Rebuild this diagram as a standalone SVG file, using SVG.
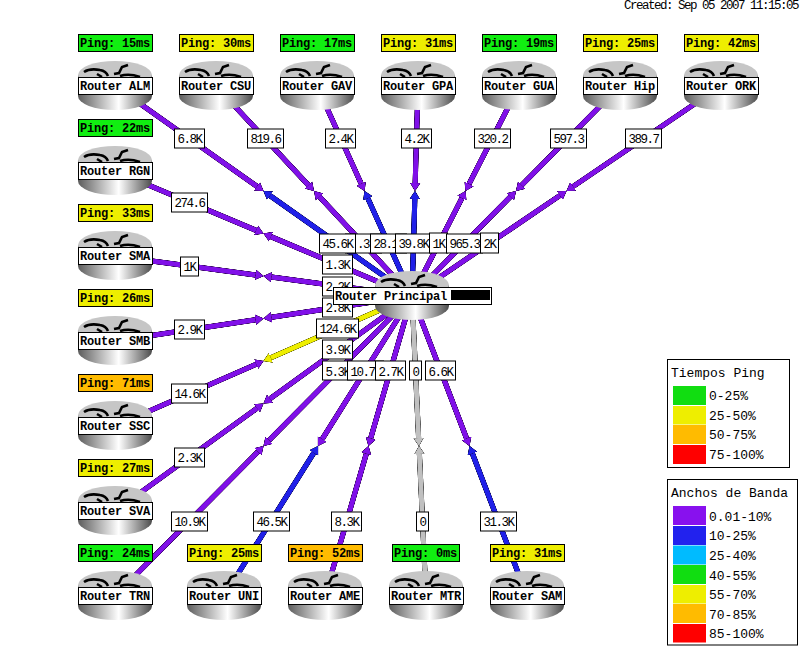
<svg xmlns="http://www.w3.org/2000/svg" xmlns:xlink="http://www.w3.org/1999/xlink" width="801" height="653" viewBox="0 0 801 653">
<style>
text{font-family:"Liberation Mono","DejaVu Sans Mono",monospace;fill:#000}
.n{font-size:12px;font-weight:bold;letter-spacing:-.2px}
.l{font-size:12.500px;letter-spacing:-1.500px}
.t{font-size:13px}
.b{fill:#fff;stroke:#000;stroke-width:1}
.g{fill:#11ee11;stroke:#000}
.y{fill:#eeee00;stroke:#000}
.o{fill:#ffbb00;stroke:#000}
.p,.u,.w,.m{fill:none;stroke-width:5}
.p{stroke:#8010e8;marker-end:url(#ap)}
.u{stroke:#2020e8;marker-end:url(#au)}
.w{stroke:#eeee00;marker-end:url(#ay)}
.m{stroke:#c0c0c0;marker-end:url(#am)}
</style>
<defs>
<linearGradient id="cyl"><stop offset="0" stop-color="#5c5c5c"/><stop offset=".55" stop-color="#fff"/><stop offset="1" stop-color="#4c4c4c"/></linearGradient>
<marker id="ap" markerUnits="userSpaceOnUse" markerWidth="10" markerHeight="12" refX="0" refY="6" orient="auto"><path d="M0,1 L8,6 L0,11z" fill="#8010e8"/></marker>
<marker id="au" markerUnits="userSpaceOnUse" markerWidth="10" markerHeight="12" refX="0" refY="6" orient="auto"><path d="M0,1 L8,6 L0,11z" fill="#2020e8"/></marker>
<marker id="ay" markerUnits="userSpaceOnUse" markerWidth="10" markerHeight="12" refX="0" refY="6" orient="auto"><path d="M0,1 L8,6 L0,11z" fill="#eeee00"/></marker>
<marker id="am" markerUnits="userSpaceOnUse" markerWidth="10" markerHeight="12" refX="0" refY="6" orient="auto"><path d="M0,1 L8,6 L0,11z" fill="#c0c0c0"/></marker>
<filter id="edge" filterUnits="userSpaceOnUse" x="0" y="0" width="801" height="653" color-interpolation-filters="sRGB">
<feGaussianBlur in="SourceAlpha" stdDeviation=".6" result="b"/>
<feComponentTransfer in="b" result="c"><feFuncA type="linear" slope="2.2"/></feComponentTransfer>
<feMerge><feMergeNode in="c"/><feMergeNode in="SourceGraphic"/></feMerge>
</filter>
<g id="router">
<path d="M-37,-11V10A37,14 0 0 0 37,10V-11z" fill="url(#cyl)"/>
<ellipse cx="0" cy="-11" rx="37" ry="14" fill="#c6c6c6"/>
<path d="M-31,-14Q-25,-18 -15,-16Q-9,-15 -7,-10M-1,-12L4,-13L7,-19L13,-21M5,-10Q14,-13 25,-9M-18,-12L-13,-9" fill="none" stroke="#000" stroke-width="2.600"/>
</g>
</defs>
<rect width="801" height="653" fill="#fff"/>
<text class="l" x="624" y="9">Created: Sep 05 2007 11:15:05</text>

<g id="connectors">
<g filter="url(#edge)">
<line class="p" x1="115" y1="86" x2="257" y2="186.4"/><line class="u" x1="412" y1="296" x2="270" y2="195.6"/>
<line class="p" x1="216" y1="86" x2="308.5" y2="185.2"/><line class="p" x1="412" y1="296" x2="319.5" y2="196.8"/>
<line class="p" x1="317" y1="86" x2="361.2" y2="183.7"/><line class="u" x1="412" y1="296" x2="367.8" y2="198.3"/>
<line class="p" x1="418" y1="86" x2="415.2" y2="183"/><line class="u" x1="412" y1="296" x2="414.8" y2="199"/>
<line class="p" x1="519" y1="86" x2="469.1" y2="183.9"/><line class="p" x1="412" y1="296" x2="461.9" y2="198.1"/>
<line class="p" x1="620" y1="86" x2="521.6" y2="185.3"/><line class="p" x1="412" y1="296" x2="510.4" y2="196.7"/>
<line class="p" x1="721" y1="86" x2="573.1" y2="186.5"/><line class="p" x1="412" y1="296" x2="559.9" y2="195.5"/>
<line class="p" x1="115" y1="171" x2="256.1" y2="230.4"/><line class="p" x1="412" y1="296" x2="270.9" y2="236.6"/>
<line class="p" x1="115" y1="256" x2="255.6" y2="274.9"/><line class="p" x1="412" y1="296" x2="271.4" y2="277.1"/>
<line class="p" x1="115" y1="341" x2="255.6" y2="319.7"/><line class="p" x1="412" y1="296" x2="271.4" y2="317.3"/>
<line class="p" x1="115" y1="426" x2="256.2" y2="364.2"/><line class="w" x1="412" y1="296" x2="270.8" y2="357.8"/>
<line class="p" x1="115" y1="511" x2="257" y2="408.2"/><line class="p" x1="412" y1="296" x2="270" y2="398.8"/>
<line class="p" x1="115" y1="596" x2="257.9" y2="451.7"/><line class="p" x1="412" y1="296" x2="269.1" y2="440.3"/>
<line class="u" x1="224" y1="596" x2="313.8" y2="452.8"/><line class="p" x1="412" y1="296" x2="322.2" y2="439.2"/>
<line class="p" x1="325" y1="596" x2="366.3" y2="453.7"/><line class="p" x1="412" y1="296" x2="370.7" y2="438.3"/>
<line class="m" x1="426" y1="596" x2="419.4" y2="454"/><line class="m" x1="412" y1="296" x2="418.6" y2="438"/>
<line class="u" x1="527" y1="596" x2="472.4" y2="453.5"/><line class="p" x1="412" y1="296" x2="466.6" y2="438.5"/>
</g>
<g id="link-labels">
<rect class="b" x="174.5" y="129" width="30" height="19"/><text class="l" x="177.5" y="143">6.8K</text>
<rect class="b" x="247.5" y="129" width="36" height="19"/><text class="l" x="250.5" y="143">819.6</text>
<rect class="b" x="325.5" y="129" width="30" height="19"/><text class="l" x="328.5" y="143">2.4K</text>
<rect class="b" x="401.5" y="129" width="30" height="19"/><text class="l" x="404.5" y="143">4.2K</text>
<rect class="b" x="474.5" y="129" width="36" height="19"/><text class="l" x="477.5" y="143">320.2</text>
<rect class="b" x="550.5" y="129" width="36" height="19"/><text class="l" x="553.5" y="143">597.3</text>
<rect class="b" x="625.5" y="129" width="36" height="19"/><text class="l" x="628.5" y="143">389.7</text>
<rect class="b" x="171.5" y="193" width="36" height="19"/><text class="l" x="174.5" y="207">274.6</text>
<rect class="b" x="180.5" y="257" width="18" height="19"/><text class="l" x="183.5" y="271">1K</text>
<rect class="b" x="174.5" y="320" width="30" height="19"/><text class="l" x="177.5" y="334">2.9K</text>
<rect class="b" x="171.5" y="384" width="36" height="19"/><text class="l" x="174.5" y="398">14.6K</text>
<rect class="b" x="174.5" y="448" width="30" height="19"/><text class="l" x="177.5" y="462">2.3K</text>
<rect class="b" x="171.5" y="512" width="36" height="19"/><text class="l" x="174.5" y="526">10.9K</text>
<rect class="b" x="253.5" y="512" width="36" height="19"/><text class="l" x="256.5" y="526">46.5K</text>
<rect class="b" x="331.5" y="512" width="30" height="19"/><text class="l" x="334.5" y="526">8.3K</text>
<rect class="b" x="416.5" y="512" width="12" height="19"/><text class="l" x="419.5" y="526">0</text>
<rect class="b" x="480.5" y="512" width="36" height="19"/><text class="l" x="483.5" y="526">31.3K</text>

<rect class="b" x="345.5" y="234" width="36" height="19"/><text class="l" x="357" y="248">.3</text>
<rect class="b" x="319.5" y="234" width="36" height="19"/><text class="l" x="322.5" y="248">45.6K</text>
<rect class="b" x="370.5" y="234" width="36" height="19"/><text class="l" x="373.5" y="248">28.1</text>
<rect class="b" x="395.5" y="234" width="36" height="19"/><text class="l" x="398.5" y="248">39.8K</text>
<rect class="b" x="429.5" y="233" width="18" height="20"/><text class="l" x="432.5" y="248">1K</text>
<rect class="b" x="446.5" y="234" width="36" height="19"/><text class="l" x="449.5" y="248">965.3</text>
<rect class="b" x="480.5" y="233" width="18" height="20"/><text class="l" x="483.5" y="248">2K</text>
<rect class="b" x="322.5" y="255" width="30" height="19"/><text class="l" x="325.5" y="269">1.3K</text>
<rect class="b" x="322.5" y="277" width="30" height="19"/><text class="l" x="325.5" y="291">2.2K</text>
<rect class="b" x="322.5" y="298" width="30" height="19"/><text class="l" x="325.5" y="312">2.8K</text>
<rect class="b" x="316.5" y="319" width="42" height="19"/><text class="l" x="319.5" y="333">124.6K</text>
<rect class="b" x="322.5" y="340" width="30" height="19"/><text class="l" x="325.5" y="354">3.9K</text>
<rect class="b" x="322.5" y="361" width="30" height="19"/><text class="l" x="325.5" y="376">5.3K</text>
<rect class="b" x="347.5" y="361" width="36" height="19"/><text class="l" x="350.5" y="376">10.7</text>
<rect class="b" x="375.5" y="361" width="30" height="19"/><text class="l" x="378.5" y="376">2.7K</text>
<rect class="b" x="409.5" y="361" width="12" height="19"/><text class="l" x="412.5" y="376">0</text>
<rect class="b" x="425.5" y="361" width="30" height="19"/><text class="l" x="428.5" y="376">6.6K</text>
</g>
</g>

<g id="router-principal"><use href="#router" xlink:href="#router" x="412" y="296"/><rect class="b" x="333.5" y="287.5" width="158" height="17"/><text class="n" x="335" y="300">Router Principal</text><rect x="451" y="290" width="39" height="10" fill="#000"/></g>

<g id="router-alm"><use href="#router" xlink:href="#router" x="115" y="86"/><rect class="b" x="78.5" y="77.5" width="74" height="17"/><text class="n" x="80" y="90">Router ALM</text><rect class="g" x="78.5" y="34.5" width="74" height="17"/><text class="n" x="80" y="47">Ping: 15ms</text></g>
<g id="router-csu"><use href="#router" xlink:href="#router" x="216" y="86"/><rect class="b" x="179.5" y="77.5" width="74" height="17"/><text class="n" x="181" y="90">Router CSU</text><rect class="y" x="179.5" y="34.5" width="74" height="17"/><text class="n" x="181" y="47">Ping: 30ms</text></g>
<g id="router-gav"><use href="#router" xlink:href="#router" x="317" y="86"/><rect class="b" x="280.5" y="77.5" width="74" height="17"/><text class="n" x="282" y="90">Router GAV</text><rect class="g" x="280.5" y="34.5" width="74" height="17"/><text class="n" x="282" y="47">Ping: 17ms</text></g>
<g id="router-gpa"><use href="#router" xlink:href="#router" x="418" y="86"/><rect class="b" x="381.5" y="77.5" width="74" height="17"/><text class="n" x="383" y="90">Router GPA</text><rect class="y" x="381.5" y="34.5" width="74" height="17"/><text class="n" x="383" y="47">Ping: 31ms</text></g>
<g id="router-gua"><use href="#router" xlink:href="#router" x="519" y="86"/><rect class="b" x="482.5" y="77.5" width="74" height="17"/><text class="n" x="484" y="90">Router GUA</text><rect class="g" x="482.5" y="34.5" width="74" height="17"/><text class="n" x="484" y="47">Ping: 19ms</text></g>
<g id="router-hip"><use href="#router" xlink:href="#router" x="620" y="86"/><rect class="b" x="583.5" y="77.5" width="74" height="17"/><text class="n" x="585" y="90">Router Hip</text><rect class="y" x="583.5" y="34.5" width="74" height="17"/><text class="n" x="585" y="47">Ping: 25ms</text></g>
<g id="router-ork"><use href="#router" xlink:href="#router" x="721" y="86"/><rect class="b" x="684.5" y="77.5" width="74" height="17"/><text class="n" x="686" y="90">Router ORK</text><rect class="y" x="684.5" y="34.5" width="74" height="17"/><text class="n" x="686" y="47">Ping: 42ms</text></g>

<g id="router-rgn"><use href="#router" xlink:href="#router" x="115" y="171"/><rect class="b" x="78.5" y="162.5" width="74" height="17"/><text class="n" x="80" y="175">Router RGN</text><rect class="g" x="78.5" y="119.5" width="74" height="17"/><text class="n" x="80" y="132">Ping: 22ms</text></g>
<g id="router-sma"><use href="#router" xlink:href="#router" x="115" y="256"/><rect class="b" x="78.5" y="247.5" width="74" height="17"/><text class="n" x="80" y="260">Router SMA</text><rect class="y" x="78.5" y="204.5" width="74" height="17"/><text class="n" x="80" y="217">Ping: 33ms</text></g>
<g id="router-smb"><use href="#router" xlink:href="#router" x="115" y="341"/><rect class="b" x="78.5" y="332.5" width="74" height="17"/><text class="n" x="80" y="345">Router SMB</text><rect class="y" x="78.5" y="289.5" width="74" height="17"/><text class="n" x="80" y="302">Ping: 26ms</text></g>
<g id="router-ssc"><use href="#router" xlink:href="#router" x="115" y="426"/><rect class="b" x="78.5" y="417.5" width="74" height="17"/><text class="n" x="80" y="430">Router SSC</text><rect class="o" x="78.5" y="374.5" width="74" height="17"/><text class="n" x="80" y="387">Ping: 71ms</text></g>
<g id="router-sva"><use href="#router" xlink:href="#router" x="115" y="511"/><rect class="b" x="78.5" y="502.5" width="74" height="17"/><text class="n" x="80" y="515">Router SVA</text><rect class="y" x="78.5" y="459.5" width="74" height="17"/><text class="n" x="80" y="472">Ping: 27ms</text></g>
<g id="router-trn"><use href="#router" xlink:href="#router" x="115" y="596"/><rect class="b" x="78.5" y="587.5" width="74" height="17"/><text class="n" x="80" y="600">Router TRN</text><rect class="g" x="78.5" y="544.5" width="74" height="17"/><text class="n" x="80" y="557">Ping: 24ms</text></g>
<g id="router-uni"><use href="#router" xlink:href="#router" x="224" y="596"/><rect class="b" x="187.5" y="587.5" width="74" height="17"/><text class="n" x="189" y="600">Router UNI</text><rect class="y" x="187.5" y="544.5" width="74" height="17"/><text class="n" x="189" y="557">Ping: 25ms</text></g>
<g id="router-ame"><use href="#router" xlink:href="#router" x="325" y="596"/><rect class="b" x="288.5" y="587.5" width="74" height="17"/><text class="n" x="290" y="600">Router AME</text><rect class="o" x="288.5" y="544.5" width="74" height="17"/><text class="n" x="290" y="557">Ping: 52ms</text></g>
<g id="router-mtr"><use href="#router" xlink:href="#router" x="426" y="596"/><rect class="b" x="389.5" y="587.5" width="74" height="17"/><text class="n" x="391" y="600">Router MTR</text><rect class="g" x="392.5" y="544.5" width="67" height="17"/><text class="n" x="394" y="557">Ping: 0ms</text></g>
<g id="router-sam"><use href="#router" xlink:href="#router" x="527" y="596"/><rect class="b" x="490.5" y="587.5" width="74" height="17"/><text class="n" x="492" y="600">Router SAM</text><rect class="y" x="490.5" y="544.5" width="74" height="17"/><text class="n" x="492" y="557">Ping: 31ms</text></g>

<g id="legend-ping">
<rect class="b" x="667.5" y="359.5" width="122" height="108"/>
<text class="t" x="671" y="377">Tiempos Ping</text>
<rect x="673" y="386" width="33" height="19" fill="#11dd11"/><text class="t" x="709" y="400">0-25%</text>
<rect x="673" y="406" width="33" height="18.500" fill="#eeee00"/><text class="t" x="709" y="419.500">25-50%</text>
<rect x="673" y="425" width="33" height="19" fill="#ffbb00"/><text class="t" x="709" y="439">50-75%</text>
<rect x="673" y="445" width="33" height="19" fill="#ff0000"/><text class="t" x="709" y="458.500">75-100%</text>
</g>
<g id="legend-bandwidth">
<rect class="b" x="667.500" y="479.500" width="130" height="165.500"/>
<text class="t" x="671" y="497">Anchos de Banda</text>
<rect x="673" y="506" width="33" height="19" fill="#8811ee"/><text class="t" x="709" y="521">0.01-10%</text>
<rect x="673" y="526" width="33" height="19" fill="#2222ee"/><text class="t" x="709" y="540">10-25%</text>
<rect x="673" y="545.500" width="33" height="19" fill="#00bbff"/><text class="t" x="709" y="560">25-40%</text>
<rect x="673" y="565" width="33" height="19" fill="#11dd11"/><text class="t" x="709" y="579.500">40-55%</text>
<rect x="673" y="585" width="33" height="18.500" fill="#eeee00"/><text class="t" x="709" y="599">55-70%</text>
<rect x="673" y="604" width="33" height="19" fill="#ffbb00"/><text class="t" x="709" y="618.500">70-85%</text>
<rect x="673" y="624" width="33" height="18.500" fill="#ff0000"/><text class="t" x="709" y="638">85-100%</text>
</g>
</svg>
